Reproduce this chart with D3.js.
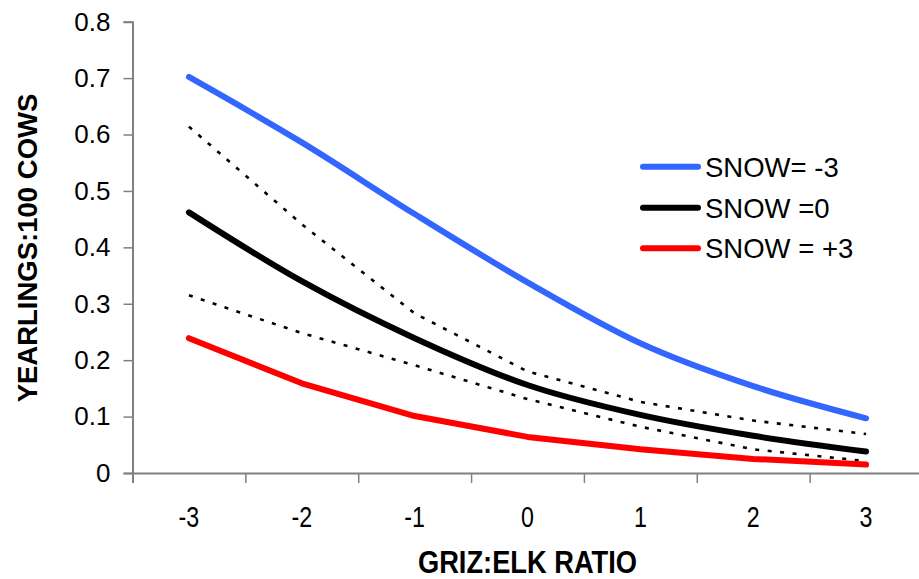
<!DOCTYPE html>
<html>
<head>
<meta charset="utf-8">
<script src="https://cdn.jsdelivr.net/npm/d3@7"></script>
<style>
  html, body { margin: 0; padding: 0; background: #fff; }
  svg { display: block; font-family: "Liberation Sans", Arial, sans-serif; }
</style>
</head>
<body>
<svg id="chart" width="919" height="579"></svg>
<script>
// Griz:elk ratio categories
const ratios = [-3, -2, -1, 0, 1, 2, 3];

// Predicted yearlings per 100 cows for three snow scenarios
const snowMinus3 = [0.702, 0.586, 0.459, 0.338, 0.230, 0.154, 0.097];
const snowZero   = [0.462, 0.340, 0.239, 0.156, 0.103, 0.066, 0.038];
const snowPlus3  = [0.239, 0.159, 0.101, 0.064, 0.042, 0.025, 0.015];

// Confidence bounds around SNOW = 0
const upperBound = [0.614, 0.441, 0.283, 0.180, 0.126, 0.093, 0.069];
const lowerBound = [0.315, 0.248, 0.191, 0.131, 0.082, 0.042, 0.021];

const yTicks = [0, 0.1, 0.2, 0.3, 0.4, 0.5, 0.6, 0.7, 0.8];
const seriesNames = ["SNOW= -3", "SNOW =0", "SNOW = +3"];

const svg = d3.select("#chart");
const x = d3.scaleLinear().domain([-3.5, 3.5]).range([132.5, 922.5]);
const y = d3.scaleLinear().domain([0, 0.8]).range([473, 21.7]);
const axisGrey = "#808080";

// Y axis
const yAxis = svg.append("g")
  .attr("transform", `translate(${x(-3.5)},0)`)
  .call(d3.axisLeft(y).tickValues(yTicks).tickSize(9).tickPadding(13)
    .tickFormat(d => d === 0 ? "0" : d3.format(".1f")(d)));
yAxis.select(".domain").attr("stroke", axisGrey).attr("stroke-width", 2);
yAxis.selectAll(".tick line").attr("stroke", axisGrey).attr("stroke-width", 1.5);
yAxis.selectAll(".tick text").attr("fill", "#000").attr("font-size", 26)
  .attr("font-family", "'Liberation Sans', Arial, sans-serif");

// X axis: ticks on category boundaries
const bounds = d3.range(-3.5, 3.51, 1);
const xAxis = svg.append("g")
  .attr("transform", `translate(0,${y(0)})`)
  .call(d3.axisBottom(x).tickValues(bounds).tickSize(10).tickFormat(""));
xAxis.select(".domain").attr("stroke", axisGrey).attr("stroke-width", 2);
xAxis.selectAll(".tick line").attr("stroke", axisGrey).attr("stroke-width", 1.5);

// X category labels (condensed)
svg.append("g").selectAll("text").data(ratios).join("text")
  .attr("transform", d => `translate(${x(d)},527) scale(0.8,1)`)
  .attr("text-anchor", "middle")
  .attr("font-size", 29)
  .attr("fill", "#000")
  .text(d => d);

// Axis titles
svg.append("text")
  .attr("transform", `translate(${x(0)},573) scale(0.88,1)`)
  .attr("text-anchor", "middle")
  .attr("font-size", 31)
  .attr("font-weight", "bold")
  .text("GRIZ:ELK RATIO");

svg.append("text")
  .attr("transform", "translate(37,248) rotate(-90)")
  .attr("text-anchor", "middle")
  .attr("font-size", 27.5)
  .attr("font-weight", "bold")
  .text("YEARLINGS:100 COWS");

// Series
const pts = vals => ratios.map((r, i) => [r, vals[i]]);
const smooth = d3.line().x(d => x(d[0])).y(d => y(d[1])).curve(d3.curveCardinal.tension(0));
const straight = d3.line().x(d => x(d[0])).y(d => y(d[1]));

const plot = svg.append("g");
[upperBound, lowerBound].forEach(b => {
  plot.append("path").attr("d", straight(pts(b)))
    .attr("fill", "none").attr("stroke", "#000").attr("stroke-width", 2.6)
    .attr("stroke-dasharray", "4 8.5");
});

const series = [
  { vals: snowMinus3, color: "#3366FF", gen: smooth },
  { vals: snowZero,   color: "#000000", gen: smooth },
  { vals: snowPlus3,  color: "#FF0000", gen: straight }
];
series.forEach(s => {
  plot.append("path").attr("d", s.gen(pts(s.vals)))
    .attr("fill", "none").attr("stroke", s.color).attr("stroke-width", 6)
    .attr("stroke-linecap", "round").attr("stroke-linejoin", "round");
});

// Legend
const legend = svg.append("g");
const legendY = [166.7, 207.7, 248.3];
series.forEach((s, i) => {
  legend.append("line")
    .attr("x1", 643).attr("x2", 698).attr("y1", legendY[i]).attr("y2", legendY[i])
    .attr("stroke", s.color).attr("stroke-width", 6).attr("stroke-linecap", "round");
  legend.append("text")
    .attr("x", 705).attr("y", legendY[i] + 10)
    .attr("font-size", 27.5)
    .attr("fill", "#000")
    .text(seriesNames[i]);
});
</script>
</body>
</html>
